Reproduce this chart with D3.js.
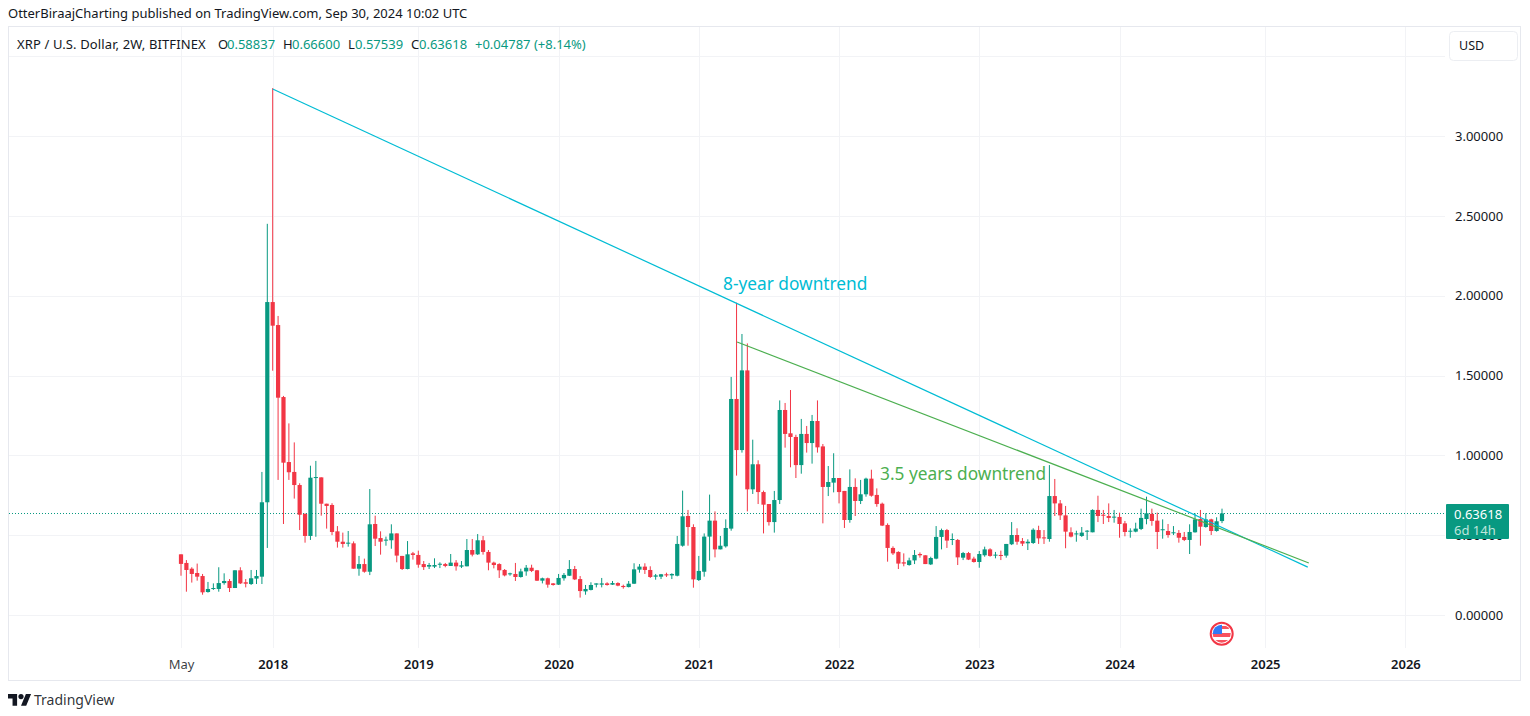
<!DOCTYPE html>
<html><head><meta charset="utf-8">
<script src="https://cdn.jsdelivr.net/npm/d3@7/dist/d3.min.js"></script>
<style>
html,body{margin:0;padding:0;background:#fff;overflow:hidden}
svg{display:block}
text{font-family:"Noto Sans",sans-serif}
.domain{display:none}
</style></head><body>
<svg id="c" width="1530" height="716"></svg>
<script>
const opens=[
.38,.326,.29,.263,.244,.144,.163,.163,.2,.213,
.169,.28,.205,.194,.228,.24,.706,1.96,1.816,1.365,
.958,.896,.814,.633,.495,.858,.862,.697,.689,.524,
.459,.449,.449,.29,.319,.271,.57,.482,.468,.468,
.511,.37,.288,.386,.376,.319,.303,.303,.317,.319,
.307,.328,.303,.305,.407,.38,.468,.395,.328,.319,
.282,.255,.257,.238,.273,.296,.28,.215,.23,.198,
.19,.23,.246,.288,.225,.148,.157,.19,.19,.198,
.19,.2,.182,.175,.196,.284,.303,.282,.24,.24,
.255,.248,.246,.434,.62,.551,.219,.271,.491,.591,
.411,.43,.541,1.353,1.033,1.532,.787,.944,.77,.695,
.582,.72,1.284,1.138,1.115,.939,1.134,1.077,1.215,1.056,
.802,.829,.858,.777,.595,.802,.714,.756,.854,.752,
.697,.564,.42,.395,.33,.313,.342,.382,.374,.317,
.353,.489,.532,.474,.47,.359,.388,.353,.332,.374,
.411,.372,.376,.372,.443,.501,.463,.449,.451,.532,
.486,.476,.745,.699,.624,.518,.505,.495,.524,.518,
.658,.628,.62,.612,.614,.574,.524,.522,.539,.601,
.633,.591,.532,.526,.514,.514,.489,.47,.518,.601,
.551,.599,.526,.58837];
const highs=[
.38,.344,.299,.322,.257,.207,.198,.299,.261,.225,
.28,.299,.225,.282,.282,.896,2.45,3.30,1.873,1.372,
1.2,1.081,.825,.637,.935,.965,.862,.697,.7,.557,
.516,.526,.461,.37,.353,.789,.622,.524,.491,.568,
.511,.37,.463,.395,.403,.338,.326,.355,.33,.326,
.382,.344,.338,.476,.476,.507,.495,.407,.334,.324,
.288,.265,.326,.29,.313,.315,.282,.234,.234,.2,
.257,.263,.344,.307,.244,.188,.205,.198,.232,.205,
.213,.205,.19,.213,.324,.319,.324,.305,.257,.257,
.265,.261,.495,.779,.658,.568,.37,.511,.754,.649,
.495,.599,1.491,1.956,1.76,1.701,1.098,.969,.779,.695,
.777,1.344,1.328,1.409,1.129,1.228,1.184,1.253,1.344,1.071,
.933,1.013,.858,.777,.912,.856,.846,.86,.91,.793,
.704,.574,.43,.399,.386,.359,.407,.392,.374,.365,
.557,.541,.539,.511,.476,.395,.395,.365,.401,.428,
.418,.395,.403,.445,.582,.543,.482,.474,.543,.559,
.532,.939,.852,.72,.683,.549,.528,.551,.532,.662,
.747,.658,.699,.658,.641,.589,.543,.578,.666,.741,
.666,.641,.599,.57,.557,.532,.52,.568,.637,.658,
.637,.603,.612,.666];
const lows=[
.246,.146,.203,.215,.127,.14,.157,.146,.19,.144,
.169,.194,.173,.188,.194,.194,.42,1.53,.846,.57,
.846,.729,.532,.453,.47,.49,.622,.541,.5,.422,
.422,.428,.29,.246,.265,.25,.432,.378,.434,.415,
.33,.282,.286,.347,.296,.282,.288,.294,.294,.299,
.307,.278,.294,.305,.367,.376,.378,.28,.292,.232,
.242,.246,.213,.234,.246,.269,.213,.198,.171,.184,
.188,.215,.244,.219,.109,.127,.154,.173,.173,.184,
.188,.18,.165,.173,.194,.265,.257,.232,.221,.225,
.238,.225,.242,.428,.434,.171,.213,.24,.34,.361,
.411,.422,.528,.873,1.017,.649,.758,.695,.511,.56,
.516,.695,1.048,.925,.858,.885,1.017,.948,1.017,.574,
.745,.768,.699,.545,.578,.62,.695,.741,.741,.678,
.557,.334,.376,.288,.305,.309,.319,.359,.319,.313,
.349,.411,.42,.438,.313,.344,.344,.328,.296,.365,
.365,.355,.344,.359,.438,.44,.432,.407,.445,.445,
.445,.459,.62,.595,.418,.486,.459,.489,.47,.518,
.582,.57,.582,.578,.484,.493,.484,.518,.532,.568,
.559,.413,.478,.484,.501,.453,.463,.382,.516,.434,
.547,.501,.522,.57539];
const closes=[
.32,.282,.257,.24,.142,.163,.169,.2,.213,.169,
.28,.198,.196,.23,.244,.706,1.96,1.812,1.361,.954,
.894,.814,.628,.495,.86,.864,.697,.683,.52,.459,
.445,.453,.29,.319,.271,.568,.478,.459,.472,.511,
.372,.288,.38,.376,.315,.3,.313,.313,.321,.307,
.328,.305,.311,.407,.378,.468,.395,.328,.313,.28,
.248,.261,.238,.273,.296,.276,.215,.23,.19,.188,
.232,.251,.288,.223,.15,.163,.188,.198,.198,.188,
.2,.184,.175,.196,.286,.303,.282,.238,.248,.255,
.248,.257,.445,.618,.551,.223,.276,.491,.591,.411,
.434,.545,1.353,1.033,1.532,.787,.944,.77,.691,.582,
.72,1.284,1.134,1.115,.939,1.134,1.077,1.215,1.05,.802,
.833,.858,.77,.595,.802,.714,.756,.854,.747,.695,
.56,.42,.386,.322,.322,.342,.376,.374,.319,.357,
.489,.532,.466,.476,.361,.388,.347,.332,.382,.411,
.37,.378,.37,.445,.501,.459,.447,.459,.534,.48,
.482,.745,.699,.624,.522,.491,.511,.516,.528,.658,
.62,.624,.608,.616,.57,.52,.528,.541,.608,.637,
.589,.52,.537,.501,.518,.484,.47,.52,.599,.553,
.599,.526,.587,.63618];
const timeTickBars=[0,17,44,70,96,122,148,174,201,227];
const timeTickLabels=["May","2018","2019","2020","2021","2022","2023","2024","2025","2026"];
const priceTicks=[0,.5,1,1.5,2,2.5,3];
const priceGridExtra=[3.5];
const lastPrice=0.63618;
const cyanTrend=[[17,3.294],[208.9,.30]];
const greenTrend=[[103.1,1.71],[209.1,.326]];

const UP="#089981",DOWN="#f23645",GRID="#f2f3f6",FRAME="#e6e8ee",INK="#131722";
const svg=d3.select("#c");
const x=d3.scaleLinear().domain([0,193]).range([181,1222]);
const y=d3.scaleLinear().domain([0,3]).range([615,136]);
const plotL=9,plotR=1445,plotT=27,plotB=648;

svg.append("rect").attr("x",8.5).attr("y",26.5).attr("width",1512).attr("height",654)
  .attr("fill","#fff").attr("stroke",FRAME);

const grid=svg.append("g").attr("stroke",GRID).attr("shape-rendering","crispEdges");
grid.selectAll(".v").data(timeTickBars).join("line").attr("class","v")
  .attr("x1",d=>Math.round(x(d))+.5).attr("x2",d=>Math.round(x(d))+.5).attr("y1",plotT).attr("y2",plotB);
grid.selectAll(".h").data(priceTicks.concat(priceGridExtra)).join("line").attr("class","h")
  .attr("x1",plotL).attr("x2",plotR).attr("y1",d=>Math.round(y(d))+.5).attr("y2",d=>Math.round(y(d))+.5);

// axes
const yAxis=d3.axisRight(y).tickValues(priceTicks).tickFormat(d3.format(".5f")).tickSize(0).tickPadding(10);
const yg=svg.append("g").attr("transform","translate(1445,0)").call(yAxis);
yg.selectAll("text").attr("fill",INK).attr("font-size",13).attr("font-family",'"Noto Sans",sans-serif');
const xAxis=d3.axisBottom(x).tickValues(timeTickBars).tickFormat((d,i)=>timeTickLabels[i]).tickSize(0).tickPadding(0);
const xg=svg.append("g").attr("transform","translate(0,660)").call(xAxis);
xg.selectAll("text").attr("fill",INK).attr("font-size",13).attr("font-family",'"Noto Sans",sans-serif')
  .attr("font-weight",(d,i)=>i===0?400:600).attr("fill-opacity",(d,i)=>i===0?.85:1);

// last price dotted line
const lastY=Math.round(y(lastPrice))+.5;
svg.append("line").attr("x1",plotL).attr("x2",plotR).attr("y1",lastY).attr("y2",lastY)
  .attr("stroke",UP).attr("stroke-width",1).attr("stroke-dasharray","1 2").attr("shape-rendering","crispEdges");

// candles
const idx=d3.range(opens.length);
const g=svg.append("g");
const col=i=>closes[i]>=opens[i]?UP:DOWN;
g.selectAll(".w").data(idx).join("line").attr("class","w")
  .attr("x1",i=>x(i)).attr("x2",i=>x(i)).attr("y1",i=>y(highs[i])).attr("y2",i=>y(lows[i]))
  .attr("stroke",col).attr("stroke-width",1);
g.selectAll(".b").data(idx).join("rect").attr("class","b")
  .attr("x",i=>x(i)-2.1).attr("width",4.2)
  .attr("y",i=>y(Math.max(opens[i],closes[i])))
  .attr("height",i=>Math.max(1,Math.abs(y(opens[i])-y(closes[i]))))
  .attr("fill",col);

// trend lines
const trendLine=d3.line().x(d=>x(d[0])).y(d=>y(d[1]));
svg.append("path").attr("d",trendLine(cyanTrend)).attr("stroke","#00bcd4").attr("stroke-width",1.2).attr("fill","none");
svg.append("path").attr("d",trendLine(greenTrend)).attr("stroke","#4caf50").attr("stroke-width",1.2).attr("fill","none");
svg.append("text").attr("x",723).attr("y",290).attr("fill","#00bcd4").attr("font-size",17.3).text("8-year downtrend");
svg.append("text").attr("x",880).attr("y",480).attr("fill","#4caf50").attr("font-size",17.3).text("3.5 years downtrend");

// header
svg.append("text").attr("x",8).attr("y",18).attr("fill",INK).attr("font-size",13).text("OtterBiraajCharting published on TradingView.com, Sep 30, 2024 10:02 UTC");
const legend=[["XRP / U.S. Dollar, 2W, BITFINEX",17,INK],["O",218,INK],["0.58837",227,UP],["H",283,INK],["0.66600",292,UP],["L",348,INK],["0.57539",355,UP],["C",411,INK],["0.63618",419,UP],["+0.04787 (+8.14%)",475,UP]];
svg.selectAll(".lg").data(legend).join("text").attr("class","lg")
  .attr("x",d=>d[1]).attr("y",49).attr("fill",d=>d[2]).attr("font-size",13)
  .attr("letter-spacing",(d,i)=>i===0?.12:0).text(d=>d[0]);

// USD button
svg.append("rect").attr("x",1449.5).attr("y",31.5).attr("width",68).attr("height",29).attr("rx",4)
  .attr("fill","#fff").attr("stroke","#eceef2");
svg.append("text").attr("x",1459).attr("y",50).attr("fill",INK).attr("font-size",12.5).text("USD");

// price badge (covers the 0.50000 axis label, as in the reference)
svg.append("rect").attr("x",1446).attr("y",504).attr("width",63).attr("height",35).attr("rx",1).attr("fill",UP);
svg.append("text").attr("x",1454).attr("y",519).attr("fill","#fff").attr("font-size",13).text(d3.format(".5f")(lastPrice));
svg.append("text").attr("x",1454).attr("y",535).attr("fill","#bfe6dc").attr("font-size",13).text("6d 14h");

// flag icon
const cf=svg.append("defs").append("clipPath").attr("id","fc");
cf.append("circle").attr("cx",1221.7).attr("cy",633.7).attr("r",9);
svg.append("circle").attr("cx",1221.7).attr("cy",633.7).attr("r",11).attr("fill","#fff").attr("stroke","#f23645").attr("stroke-width",2);
const fl=svg.append("g").attr("clip-path","url(#fc)");
fl.append("rect").attr("x",1212).attr("y",624).attr("width",20).attr("height",20).attr("fill","#fff");
fl.append("rect").attr("x",1212).attr("y",633).attr("width",20).attr("height",4).attr("fill","#f7525f");
fl.append("rect").attr("x",1212).attr("y",640).attr("width",20).attr("height",5).attr("fill","#f7525f");
fl.append("rect").attr("x",1212).attr("y",624).attr("width",10).attr("height",10).attr("fill","#3179f5");
fl.append("rect").attr("x",1222).attr("y",626).attr("width",10).attr("height",3).attr("fill","#f7525f");

// logo
const logo=svg.append("g").attr("transform","translate(8,691.4) scale(.65)").attr("fill",INK);
logo.append("path").attr("d","M14 22H7V11H0V4h14v18zM28 22h-8l7.5-18h8L28 22z");
logo.append("circle").attr("cx",20).attr("cy",8).attr("r",4);
svg.append("text").attr("x",34).attr("y",705).attr("fill",INK).attr("font-size",14).attr("fill-opacity",.9).text("TradingView");
</script>
</body></html>
